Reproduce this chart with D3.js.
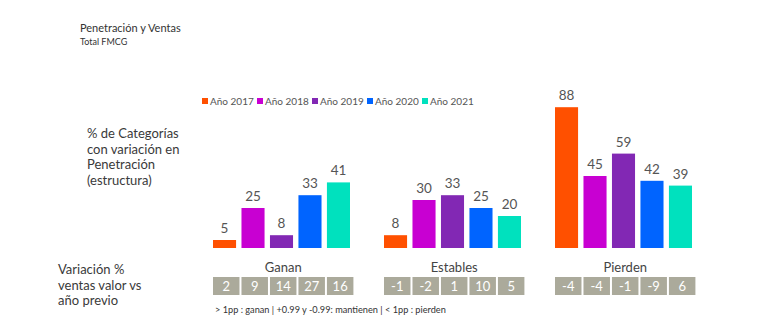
<!DOCTYPE html>
<html>
<head>
<meta charset="utf-8">
<script src="https://cdn.jsdelivr.net/npm/d3@7"></script>
<style>
  body { margin: 0; background: #fff; }
  text { font-family: Lato, "Noto Sans", sans-serif; }
</style>
</head>
<body>
<svg id="chart"></svg>
<script>
const groups = ['Ganan', 'Estables', 'Pierden'];
const years = ['Año 2017', 'Año 2018', 'Año 2019', 'Año 2020', 'Año 2021'];
const colors = ['#ff5000', '#c800d2', '#8228b4', '#0064ff', '#00e1be'];

// % de categorías por grupo y año
const ganan = [5, 25, 8, 33, 41];
const estables = [8, 30, 33, 25, 20];
const pierden = [88, 45, 59, 42, 39];

// variación % ventas valor vs año previo
const ventasGanan = [2, 9, 14, 27, 16];
const ventasEstables = [-1, -2, 1, 10, 5];
const ventasPierden = [-4, -4, -1, -9, 6];

const penetracion = [ganan, estables, pierden];
const ventas = [ventasGanan, ventasEstables, ventasPierden];

const w = 758, h = 326;
const svg = d3.select('#chart').attr('width', w).attr('height', h);

const xGroup = d3.scaleBand().domain(groups).range([213, 726]);
const xYear = d3.scaleBand().domain(years).range([0, 137]).paddingInner(0.19);
const y = d3.scaleLinear().domain([0, 100]).range([248, 88]);

// titulo
svg.append('text').attr('x', 80).attr('y', 32)
    .attr('font-size', 11).attr('fill', '#333').text('Penetración y Ventas');
svg.append('text').attr('x', 80).attr('y', 45)
    .attr('font-size', 9).attr('fill', '#333').text('Total FMCG');

// leyenda
const leg = svg.append('g').selectAll('g').data(years).enter().append('g')
    .attr('transform', (d, i) => `translate(${202 + i * 55},98)`);
leg.append('rect').attr('width', 6).attr('height', 6).attr('fill', (d, i) => colors[i]);
leg.append('text').attr('x', 8).attr('y', 7)
    .attr('font-size', 10).attr('fill', '#555').text(d => d);

// etiquetas a la izquierda
const lab1 = ['% de Categorías', 'con variación en', 'Penetración', '(estructura)'];
svg.append('text').attr('font-size', 13).attr('fill', '#3a3a3a')
    .selectAll('tspan').data(lab1).enter().append('tspan')
    .attr('x', 87).attr('y', (d, i) => 138 + i * 15.5).text(d => d);

const lab2 = ['Variación %', 'ventas valor vs', 'año previo'];
svg.append('text').attr('font-size', 13).attr('fill', '#3a3a3a')
    .selectAll('tspan').data(lab2).enter().append('tspan')
    .attr('x', 58).attr('y', (d, i) => 274 + i * 15.5).text(d => d);

// barras
groups.forEach((gName, gi) => {
    const g = svg.append('g').attr('transform', `translate(${xGroup(gName)},0)`);
    const rows = years.map((yr, i) => ({yr, i, v: penetracion[gi][i], s: ventas[gi][i]}));

    g.selectAll('rect.bar').data(rows).enter().append('rect')
        .attr('class', 'bar')
        .attr('x', d => xYear(d.yr))
        .attr('y', d => y(d.v))
        .attr('width', xYear.bandwidth())
        .attr('height', d => y(0) - y(d.v))
        .attr('fill', d => colors[d.i]);

    g.selectAll('text.val').data(rows).enter().append('text')
        .attr('class', 'val')
        .attr('x', d => xYear(d.yr) + xYear.bandwidth() / 2)
        .attr('y', d => y(d.v) - 7)
        .attr('text-anchor', 'middle')
        .attr('font-size', 13.5).attr('fill', '#555')
        .text(d => d.v);

    const boxW = xYear.step() - 2;
    const boxEnd = xYear(years[years.length - 1]) + boxW;

    g.append('text')
        .attr('x', boxEnd / 2).attr('y', 272)
        .attr('text-anchor', 'middle')
        .attr('font-size', 13).attr('fill', '#444')
        .text(gName);

    g.selectAll('rect.box').data(rows).enter().append('rect')
        .attr('class', 'box')
        .attr('x', d => xYear(d.yr))
        .attr('y', 277)
        .attr('width', boxW)
        .attr('height', 18)
        .attr('fill', '#abaa9b');

    g.selectAll('text.box').data(rows).enter().append('text')
        .attr('class', 'box')
        .attr('x', d => xYear(d.yr) + boxW / 2)
        .attr('y', 291)
        .attr('text-anchor', 'middle')
        .attr('font-size', 13).attr('fill', '#fff')
        .text(d => d.s);
});

svg.append('text').attr('x', 215).attr('y', 313)
    .attr('font-size', 9.2).attr('fill', '#333')
    .text('> 1pp : ganan | +0.99 y -0.99: mantienen | < 1pp : pierden');
</script>
</body>
</html>
